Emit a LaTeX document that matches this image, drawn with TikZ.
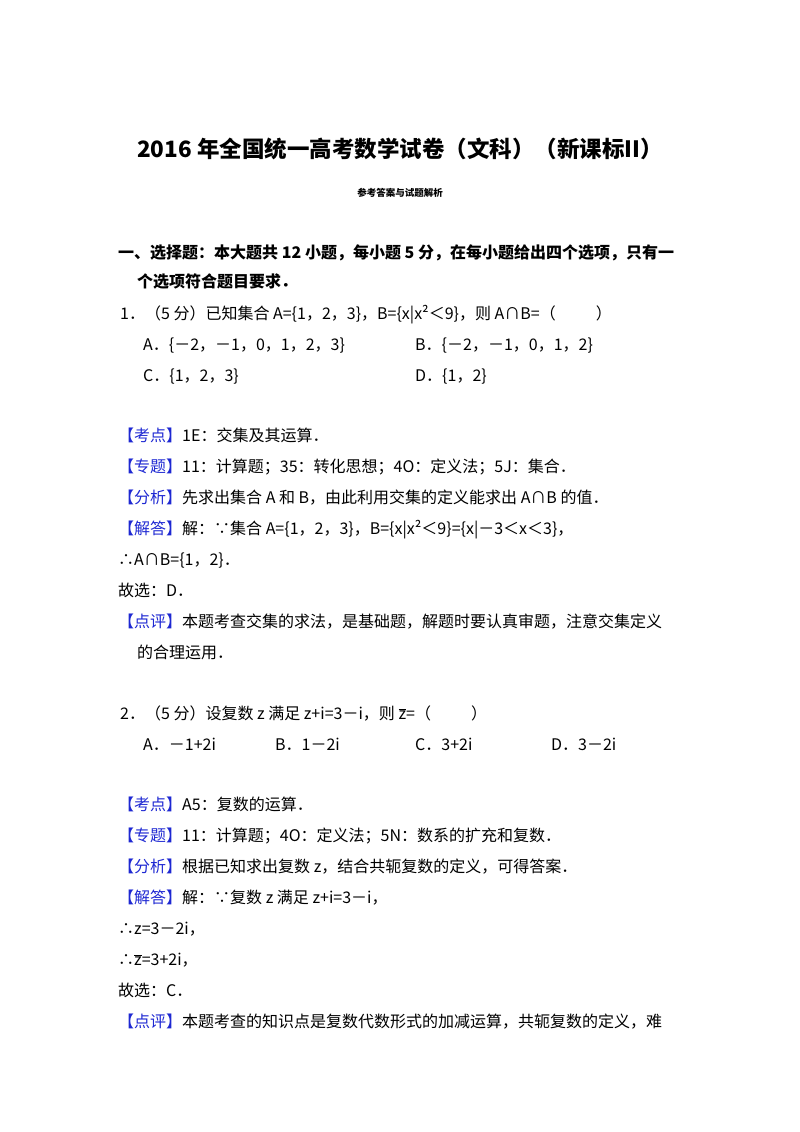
\documentclass[tikz,border=0pt]{standalone}
\usepackage{fontspec}
\setmainfont{Noto Sans CJK SC}
\definecolor{kblue}{RGB}{30,40,210}
\tikzset{ln/.style={anchor=base west,inner sep=0pt,font=\fontsize{16}{19}\selectfont},
 hd/.style={ln,font=\fontsize{16}{19}\selectfont\bfseries}}
\newcommand{\tg}[1]{\textcolor{kblue}{【#1】}}
\begin{document}
\begin{tikzpicture}[x=1pt,y=-1pt]
\useasboundingbox (0,0) rectangle (800,1132);
\node[anchor=base,inner sep=0pt,font=\fontsize{22.5}{26}\selectfont\bfseries] (title) at (400,157) {2016 年全国统一高考数学试卷（文科）（新课标II）};
\node[anchor=base,inner sep=0pt,font=\fontsize{9.5}{11}\selectfont\bfseries] (sub) at (400,196) {参考答案与试题解析};
\node[hd] (h1) at (118,258) {一、选择题：本大题共 12 小题，每小题 5 分，在每小题给出四个选项，只有一};
\node[hd] (h2) at (137,287) {个选项符合题目要求．};
\node[ln] (q1) at (120,319) {1．（5 分）已知集合 A=\{1，2，3\}，B=\{x|x²＜9\}，则 A∩B=（\hspace{2.5em}）};
\node[ln] (q1a) at (143,350) {A．\{－2，－1，0，1，2，3\}};
\node[ln] (q1b) at (415,350) {B．\{－2，－1，0，1，2\}};
\node[ln] (q1c) at (143,381) {C．\{1，2，3\}};
\node[ln] (q1d) at (415,381) {D．\{1，2\}};
\node[ln] (k1) at (118,441) {\tg{考点}1E：交集及其运算．};
\node[ln] (z1) at (118,472) {\tg{专题}11：计算题；35：转化思想；4O：定义法；5J：集合．};
\node[ln] (f1) at (118,503) {\tg{分析}先求出集合 A 和 B，由此利用交集的定义能求出 A∩B 的值．};
\node[ln] (j1) at (118,534) {\tg{解答}解：∵集合 A=\{1，2，3\}，B=\{x|x²＜9\}=\{x|－3＜x＜3\}，};
\node[ln] (j1b) at (118,565) {∴A∩B=\{1，2\}．};
\node[ln] (g1) at (118,596) {故选：D．};
\node[ln] (p1) at (118,627) {\tg{点评}本题考查交集的求法，是基础题，解题时要认真审题，注意交集定义};
\node[ln] (p1b) at (137,658) {的合理运用．};
\node[ln] (q2) at (120,719) {2．（5 分）设复数 z 满足 z+i=3－i，则 $\overline{\mbox{z}}$=（\hspace{2.5em}）};
\node[ln] (q2a) at (143,750) {A．－1+2i};
\node[ln] (q2b) at (275,750) {B．1－2i};
\node[ln] (q2c) at (415,750) {C．3+2i};
\node[ln] (q2d) at (551,750) {D．3－2i};
\node[ln] (k2) at (118,810) {\tg{考点}A5：复数的运算．};
\node[ln] (z2) at (118,841) {\tg{专题}11：计算题；4O：定义法；5N：数系的扩充和复数．};
\node[ln] (f2) at (118,872) {\tg{分析}根据已知求出复数 z，结合共轭复数的定义，可得答案．};
\node[ln] (j2) at (118,903) {\tg{解答}解：∵复数 z 满足 z+i=3－i，};
\node[ln] (j2b) at (118,934) {∴z=3－2i，};
\node[ln] (j2c) at (118,965) {∴$\overline{\mbox{z}}$=3+2i，};
\node[ln] (g2) at (118,996) {故选：C．};
\node[ln] (p2) at (118,1027) {\tg{点评}本题考查的知识点是复数代数形式的加减运算，共轭复数的定义，难};
\end{tikzpicture}
\end{document}
